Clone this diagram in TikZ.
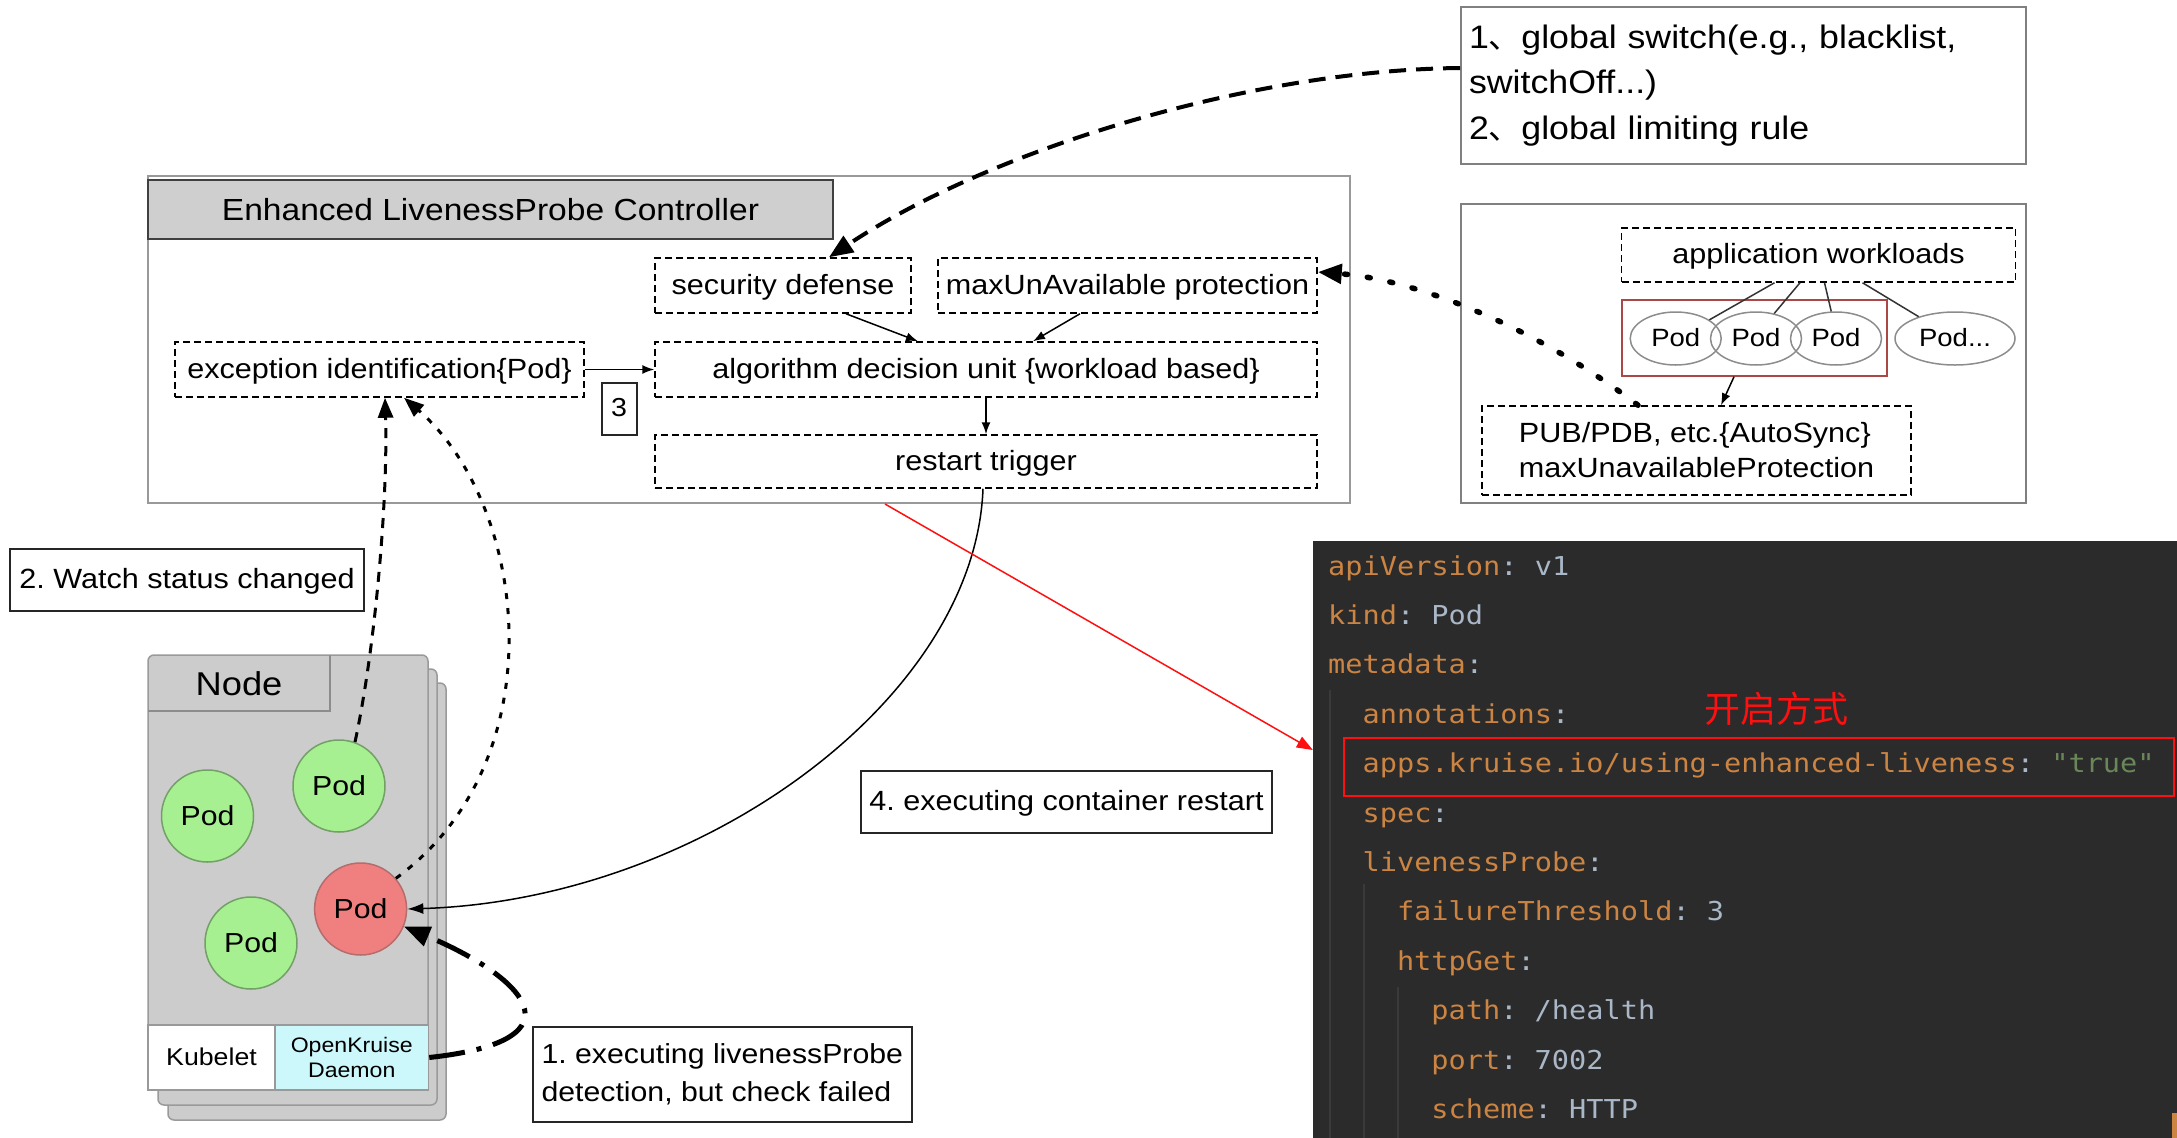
\documentclass[tikz,border=0pt]{standalone}
\usepackage{fontspec}
\setmainfont{Liberation Sans}[FakeStretch=1.1]
\newfontfamily\cjkfont{Noto Sans CJK SC}
\newfontfamily\codefont{DejaVu Sans Mono}[FakeStretch=1.1]
\usetikzlibrary{arrows.meta,shapes.geometric}

\definecolor{framegray}{HTML}{999999}
\definecolor{titlefill}{HTML}{CFCFCF}
\definecolor{hostfill}{HTML}{CCCCCC}
\definecolor{hostedge}{HTML}{9A9A9A}
\definecolor{podgreen}{HTML}{A7F091}
\definecolor{podgreenedge}{HTML}{72A066}
\definecolor{podred}{HTML}{F08080}
\definecolor{podrededge}{HTML}{B56C6C}
\definecolor{daemonfill}{HTML}{CCF7FB}
\definecolor{groupedge}{HTML}{AA4848}
\definecolor{panelbg}{HTML}{2B2B2B}
\definecolor{guide}{HTML}{3A3A3A}
\definecolor{codekey}{HTML}{CC8443}
\definecolor{codeval}{HTML}{A9B7C6}
\definecolor{codestr}{HTML}{6A8759}
\definecolor{hlred}{HTML}{FF1010}

\newcommand\fsz[2]{\fontsize{#1}{#2}\selectfont}
\newcommand\ykey[1]{\textcolor{codekey}{#1}}
\newcommand\yval[1]{\textcolor{codeval}{#1}}
\newcommand\ystr[1]{\textcolor{codestr}{#1}}
% one monospace cell of the listing font
\newcommand\ysp{\hspace*{17.2pt}}

\tikzset{
  frame/.style={draw=framegray, line width=2pt, inner sep=0pt},
  dbox/.style={draw=black, line width=1.5pt, dash pattern=on 7pt off 4pt, inner sep=0pt,
    font={\fsz{27.8}{33}}, text height=21pt, text depth=4pt},
  tbox/.style={draw=black!85, line width=2pt, inner sep=0pt,
    font={\fsz{27.8}{33}}, text height=21pt, text depth=4pt},
  gpod/.style={circle, draw=podgreenedge, fill=podgreen, line width=1.5pt, minimum size=92pt,
    inner sep=0pt, font={\fsz{27.5}{33}}, text height=20pt, text depth=2pt},
  epod/.style={ellipse, draw=black!45, line width=1.5pt, minimum width=91pt, minimum height=53pt,
    inner sep=0pt, font={\fsz{25}{30}}, text height=19pt, text depth=2.5pt},
  codeline/.style={anchor=base west, inner sep=0pt, font={\codefont\fsz{26}{30}}},
  conn/.style={line width=1.5pt, -{Latex[length=12pt,width=9pt]}},
  wline/.style={line width=1.5pt, draw=black!80},
  bigdash/.style={line width=4pt, dash pattern=on 17pt off 10pt, -{Triangle[length=24pt,width=19pt]}},
  bigdot/.style={line width=5.5pt, line cap=round, dash pattern=on 3pt off 20pt, -{Triangle[length=24pt,width=19pt]}},
  dashA/.style={line width=3pt, dash pattern=on 10pt off 8pt, -{Triangle[length=20pt,width=15pt]}},
  dashB/.style={line width=3pt, dash pattern=on 6pt off 9pt, -{Triangle[length=20pt,width=15pt]}},
  dashdot/.style={line width=5pt, dash pattern=on 36pt off 12pt on 5pt off 12pt, -{Triangle[length=26pt,width=20pt]}},
  redarrow/.style={draw=hlred, line width=1.5pt, -{Triangle[length=16pt,width=12pt]}}
}

\begin{document}
\frenchspacing
\begin{tikzpicture}[x=1pt,y=-1pt]
\useasboundingbox (0,0) rectangle (2177,1138);

% ---------------- controller ----------------
\node[frame, minimum width=1202pt, minimum height=327pt] (ctrl) at (749,339.5) {};
\node[draw=black!75, fill=titlefill, line width=2pt, inner sep=0pt, minimum width=685pt, minimum height=59pt,
      font={\fsz{30.5}{36}}, text height=23pt, text depth=2pt] (title) at (490.5,209.5)
      {Enhanced LivenessProbe Controller};
\node[dbox, minimum width=256pt, minimum height=55pt] (secdef) at (783,285.5) {security defense};
\node[dbox, minimum width=379pt, minimum height=55pt] (maxun) at (1127.5,285.5) {maxUnAvailable protection};
\node[dbox, minimum width=409pt, minimum height=55pt] (excid) at (379.5,369.5) {exception identification\{Pod\}};
\node[dbox, minimum width=662pt, minimum height=55pt] (algo) at (986,369.5) {algorithm decision unit \{workload based\}};
\node[dbox, minimum width=662pt, minimum height=53pt] (restart) at (986,461.5) {restart trigger};
\node[draw=black!85, line width=2pt, inner sep=0pt, minimum width=35pt, minimum height=52pt,
      font={\fsz{26}{30}}, text height=17pt, text depth=1.6pt] (three) at (619,409) {3};

\draw[conn] (excid) -- (algo);
\draw[conn] ([xshift=63pt]secdef.south) -- ([xshift=-68pt]algo.north);
\draw[conn] ([xshift=-47.5pt]maxun.south) -- ([xshift=47pt]algo.north);
\draw[conn] (algo) -- (restart);

% ---------------- global rules ----------------
\node[frame, draw=black!50, minimum width=565pt, minimum height=157pt, text width=549pt, inner xsep=8pt,
      align=left, font={\fsz{32.5}{45.7}}] (glob) at (1743.5,85.5)
      {1{\cjkfont 、}global switch(e.g., blacklist,\\switchOff...)\\2{\cjkfont 、}global limiting rule};

% ---------------- workloads ----------------
\node[frame, draw=black!50, minimum width=565pt, minimum height=299pt] (wl) at (1743.5,353.5) {};
\node[dbox, minimum width=394pt, minimum height=54pt] (app) at (1818.5,255) {application workloads};
\node[draw=groupedge, line width=1.5pt, inner sep=0pt, minimum width=265pt, minimum height=76pt] (grp) at (1754.5,338) {};
\node[epod] (pod1) at (1675.7,338.5) {Pod};
\node[epod] (pod2) at (1756,338.5) {Pod};
\node[epod] (pod3) at (1836,338.5) {Pod};
\node[epod, minimum width=120pt] (podn) at (1955,338.5) {Pod...};
\node[draw=black, line width=1.5pt, dash pattern=on 7pt off 4pt, inner sep=0pt, minimum width=429pt, minimum height=89pt,
      align=left, font={\fsz{27.8}{35}}] (pub) at (1696.5,450.5)
      {PUB/PDB, etc.\{AutoSync\}\\maxUnavailableProtection};

\draw[wline] ([xshift=-44pt]app.south) -- (pod1.29);
\draw[wline] ([xshift=-18.5pt]app.south) -- (pod2.54);
\draw[wline] ([xshift=6pt]app.south) -- (pod3.100);
\draw[wline] ([xshift=44pt]app.south) -- (podn.149);
\draw[conn] ([xshift=-20.5pt]grp.south) -- ([xshift=24.5pt]pub.north);

% ---------------- node stack ----------------
\draw[rounded corners=6pt, fill=hostfill, draw=hostedge, line width=1.5pt] (168,683) rectangle (446,1120);
\draw[rounded corners=6pt, fill=hostfill, draw=hostedge, line width=1.5pt] (158,669) rectangle (437,1105);
\node[rounded corners=6pt, fill=hostfill, draw=hostedge, line width=1.5pt, inner sep=0pt,
      minimum width=280pt, minimum height=435pt] (host) at (288,872.5) {};
\node[inner sep=0pt, minimum width=182pt, minimum height=56pt, font={\fsz{33}{38}}, text height=24pt, text depth=0pt]
      (hosthdr) at (239,683) {Node};
\draw[draw=black!45, line width=1.5pt] (hosthdr.north east) -- (hosthdr.south east) -- (hosthdr.south west);
\node[fill=white, draw=black!40, line width=1.5pt, inner sep=0pt, minimum width=127pt, minimum height=65pt,
      font={\fsz{24.3}{29}}, text height=17pt, text depth=2pt] (kubelet) at (211.5,1057.5) {Kubelet};
\node[fill=daemonfill, draw=black!40, line width=1.5pt, inner sep=0pt, minimum width=153.5pt, minimum height=65pt,
      align=center, font={\fsz{21}{25.6}}] (daemon) at (351.75,1057.5) {OpenKruise\\Daemon};

\node[gpod] (podA) at (207.5,816) {Pod};
\node[gpod] (podB) at (339,786) {Pod};
\node[gpod] (podC) at (251,943) {Pod};
\node[gpod, fill=podred, draw=podrededge] (podR) at (360.6,909) {Pod};

% ---------------- labels ----------------
\node[tbox, minimum width=354pt, minimum height=62pt] (watch) at (187,580) {2. Watch status changed};
\node[tbox, minimum width=411pt, minimum height=62pt] (restartlbl) at (1066.5,802) {4. executing container restart};
\node[draw=black!85, line width=2pt, inner sep=0pt, minimum width=379pt, minimum height=95pt,
      align=left, font={\fsz{27.5}{38.5}}] (probe) at (722.3,1074.4)
      {1. executing livenessProbe\\detection, but check failed};

% ---------------- pod manifest ----------------
\node[fill=panelbg, inner sep=0pt, minimum width=864pt, minimum height=597pt] (code) at (1745,839.5) {};
\draw[guide, line width=1.5pt] (1330,690) -- (1330,1138);
\draw[guide, line width=1.5pt] (1364,884) -- (1364,1138);
\draw[guide, line width=1.5pt] (1398,987) -- (1398,1138);
\fill[codekey] (2172,1113) rectangle (2177,1138);

\node[codeline] (c1) at (1328,575) {\ykey{apiVersion}\yval{:\ysp v1}};
\node[codeline] (c2) at (1328,624.4) {\ykey{kind}\yval{:\ysp Pod}};
\node[codeline] (c3) at (1328,673.8) {\ykey{metadata}\yval{:}};
\node[codeline] (c4) at (1362.4,723.2) {\ykey{annotations}\yval{:}};
\node[codeline] (c5) at (1362.4,772.6) {\ykey{apps.kruise.io/using-enhanced-liveness}\yval{:\ysp}\ystr{"true"}};
\node[codeline] (c6) at (1362.4,822) {\ykey{spec}\yval{:}};
\node[codeline] (c7) at (1362.4,871.4) {\ykey{livenessProbe}\yval{:}};
\node[codeline] (c8) at (1396.8,920.8) {\ykey{failureThreshold}\yval{:\ysp 3}};
\node[codeline] (c9) at (1396.8,970.2) {\ykey{httpGet}\yval{:}};
\node[codeline] (c10) at (1431.2,1019.6) {\ykey{path}\yval{:\ysp /health}};
\node[codeline] (c11) at (1431.2,1069) {\ykey{port}\yval{:\ysp 7002}};
\node[codeline] (c12) at (1431.2,1118.4) {\ykey{scheme}\yval{:\ysp HTTP}};

\node[draw=hlred, line width=2pt, inner sep=0pt, minimum width=830.5pt, minimum height=58.5pt] (hl) at (1758.75,766.75) {};
\node[text=hlred, inner sep=0pt, font={\cjkfont\fsz{36}{40}}] (cjk) at (1776,709) {开启方式};

% ---------------- connectors ----------------
\draw[bigdash] ([yshift=17.5pt]glob.west) .. controls (1250,70) and (990,150) .. ([xshift=46pt]secdef.north);
\draw[bigdot] ([xshift=-58.5pt]pub.north) .. controls (1540,330) and (1420,280) .. ([yshift=13.5pt]maxun.east);
\draw[line width=1.5pt, -{Latex[length=16pt,width=11pt]}] ([xshift=-3pt]restart.south) .. controls (975,700) and (700,900) .. (podR.east);
\draw[dashA] (podB.70) .. controls (375,650) and (388,500) .. ([xshift=5.5pt]excid.south);
\draw[dashB] (podR.41) .. controls (558,760) and (528,505) .. ([xshift=24.5pt]excid.south);
\draw[dashdot] (daemon.east) .. controls (590,1040) and (520,975) .. (podR.-22);
\draw[redarrow] ([xshift=136pt]ctrl.south) -- ([yshift=89.5pt]code.west);

\end{tikzpicture}
\end{document}
